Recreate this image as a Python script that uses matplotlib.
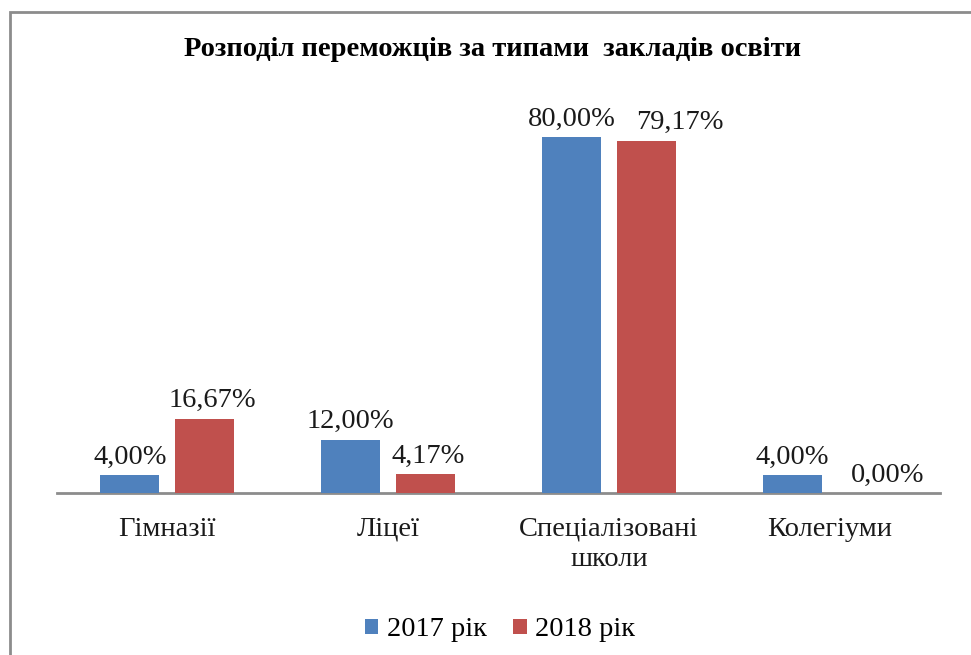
import numpy as np
import matplotlib.pyplot as plt
from matplotlib.patches import Rectangle

plt.rcParams['font.family'] = ['Liberation Serif', 'DejaVu Serif']

categories = ['Гімназії', 'Ліцеї', 'Спеціалізовані\nшколи', 'Колегіуми']
values_2017 = [4.00, 12.00, 80.00, 4.00]
values_2018 = [16.67, 4.17, 79.17, 0.00]
series_names = ['2017 рік', '2018 рік']
title = 'Розподіл переможців за типами  закладів освіти'

blue = '#4F81BD'
red = '#C0504D'
FS = 20.5
# some labels were dragged sideways in the original (pixels)
shift_2017 = [0, 0, 0, 0]
shift_2018 = [7, 3, 33, 20]

W, H = 971, 655
fig = plt.figure(figsize=(W / 100, H / 100), dpi=100)

# outer chart border (cut off at right and bottom like the screenshot)
fig.patches.append(Rectangle((10 / W, -0.1), 1.2, 1 - 12 / H + 0.1, transform=fig.transFigure,
                             fill=False, edgecolor='#8c8c8c', linewidth=2, zorder=0))

# axes placed in pixels: left 57, right 940, baseline 493, top 100
ax = fig.add_axes([57 / W, 1 - 493 / H, (940 - 57) / W, (493 - 100) / H])
px_per_pct = 4.45
ax.set_ylim(0, (493 - 100) / px_per_pct)
ax.set_xlim(-0.5, len(categories) - 0.5)

x = np.arange(len(categories))
bw = 0.267
off = 0.17
b1 = ax.bar(x - off, values_2017, bw, color=blue, label=series_names[0], zorder=3)
b2 = ax.bar(x + off, values_2018, bw, color=red, label=series_names[1], zorder=3)

def fmt(v):
    return f'{v:.2f}'.replace('.', ',') + '%'

for bars, vals, shifts in [(b1, values_2017, shift_2017), (b2, values_2018, shift_2018)]:
    for rect, v, dx in zip(bars, vals, shifts):
        ax.annotate(fmt(v), (rect.get_x() + rect.get_width() / 2, v),
                    xytext=(dx * 0.72, 4), textcoords='offset points',
                    ha='center', va='bottom', fontsize=FS, color='#1a1a1a')

for s in ['top', 'right', 'left']:
    ax.spines[s].set_visible(False)
ax.spines['bottom'].set_color('#8c8c8c')
ax.spines['bottom'].set_linewidth(2)
ax.set_yticks([])
ax.set_xticks(x)
ax.set_xticklabels(categories, fontsize=FS, color='#1a1a1a', linespacing=1.3)
ax.tick_params(axis='x', length=0, pad=17)

fig.text(492 / W, 1 - 50 / H, title, ha='center', va='center',
         fontsize=FS, fontweight='bold', color='black')

fig.legend(loc='center', bbox_to_anchor=(500 / W, 1 - 630 / H), ncol=2, frameon=False,
           fontsize=FS, handlelength=0.47, handleheight=0.47, handletextpad=0.3,
           columnspacing=0.95)

fig.savefig('out.png', dpi=100)
